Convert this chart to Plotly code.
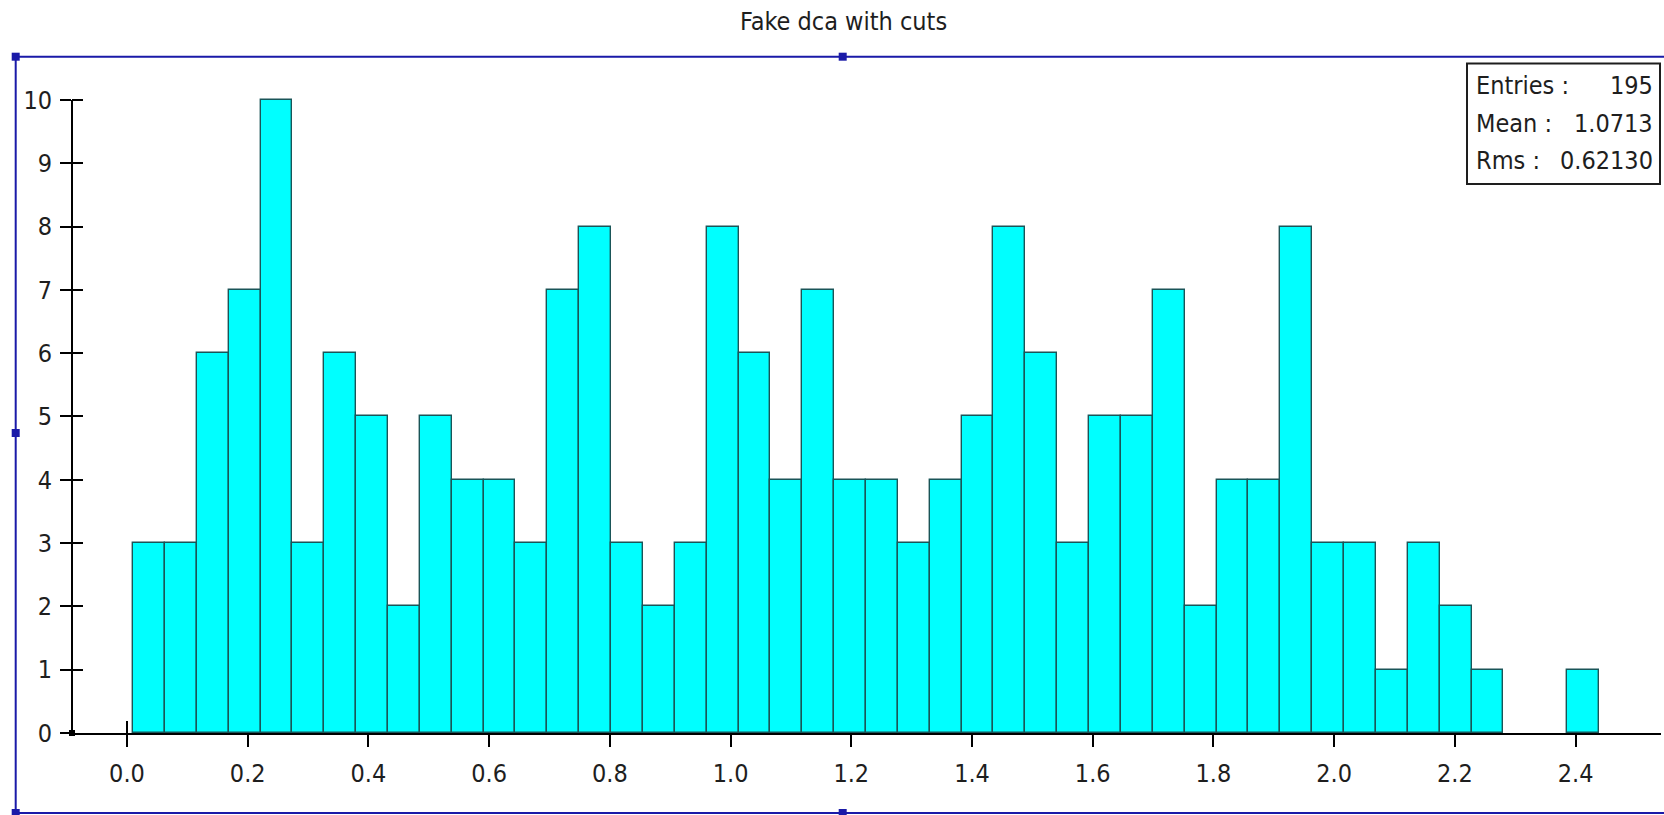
import plotly.graph_objects as go

# Histogram contents: 46 equal-width bins of the fake DCA distribution
bin_low = 0.01
bin_width = 0.0528
counts = [3, 3, 6, 7, 10, 3, 6, 5, 2, 5, 4, 4, 3, 7, 8, 3, 2, 3, 8, 6, 4, 7, 4,
          4, 3, 4, 5, 8, 6, 3, 5, 5, 7, 2, 4, 4, 8, 3, 3, 1, 3, 2, 1, 0, 0, 1]

x_ticks = [0.0, 0.2, 0.4, 0.6, 0.8, 1.0, 1.2, 1.4, 1.6, 1.8, 2.0, 2.2, 2.4]
y_ticks = list(range(0, 11))

title_text = "Fake dca with cuts"
stat_labels = ["Entries :", "Mean :", "Rms :"]
mean_value = "1.0713"
rms_value = "0.62130"

entries = sum(counts)
stat_values = [str(entries), mean_value, rms_value]

centers = [bin_low + bin_width * (i + 0.5) for i in range(len(counts))]
# empty bins get no outline
edge_widths = [1.4 if c > 0 else 0 for c in counts]

FONT = "Liberation Sans Narrow, Arial Narrow, DejaVu Sans Condensed, Liberation Sans, sans-serif"
TEXT = "#1e1e1e"
FRAME_BLUE = "#1a1aa8"

# canvas geometry (pixels)
W, H = 1664, 815
L, R, T, B = 72, 3, 98, 82
pw, ph = W - L - R, H - T - B
y_top = 10.03


def px_x(p):
    return (p - L) / pw


def px_y(p):
    return (H - B - p) / ph


fig = go.Figure()
fig.add_trace(go.Bar(
    x=centers, y=counts, width=bin_width,
    marker=dict(color="#00ffff", line=dict(color="#1a5558", width=edge_widths)),
    cliponaxis=False, hoverinfo="x+y", showlegend=False,
))
# helper trace so the overlay axes are laid out
fig.add_trace(go.Scatter(x=[None], y=[None], xaxis="x2", yaxis="y2",
                         showlegend=False, hoverinfo="skip"))

x_range = [-0.0911, 2.5415]
fig.update_layout(
    width=W, height=H,
    margin=dict(l=L, r=R, t=T, b=B, pad=0),
    paper_bgcolor="white", plot_bgcolor="white",
    bargap=0,
    font=dict(family=FONT, color=TEXT),
    xaxis=dict(
        range=x_range, tickvals=x_ticks, ticktext=[f"{v:.1f}" for v in x_ticks],
        showgrid=False, zeroline=False, showline=True, linecolor="black", linewidth=2,
        ticks="outside", ticklen=12, tickwidth=2, tickcolor="black",
        ticklabelstandoff=5,
        tickfont=dict(size=25, family=FONT, color=TEXT),
    ),
    yaxis=dict(
        range=[0, y_top], tickvals=y_ticks, ticktext=[str(v) for v in y_ticks],
        showgrid=False, zeroline=False, showline=False,
        ticks="outside", ticklen=11, tickwidth=2, tickcolor="black",
        ticklabelstandoff=3,
        tickfont=dict(size=25, family=FONT, color=TEXT),
    ),
    xaxis2=dict(
        range=x_range, overlaying="x", anchor="y", tickvals=[0.0],
        showticklabels=False, showgrid=False, zeroline=False, showline=False,
        ticks="inside", ticklen=12, tickwidth=2, tickcolor="black",
    ),
    yaxis2=dict(
        range=[0, y_top], overlaying="y", anchor="x", side="left", tickvals=y_ticks,
        showticklabels=False, showgrid=False, zeroline=False, showline=False,
        ticks="inside", ticklen=11, tickwidth=2, tickcolor="black",
    ),
)

shapes = []
# vertical axis line spanning the labelled range 0..10
shapes.append(dict(type="line", xref="paper", yref="y", x0=0, x1=0, y0=0, y1=y_ticks[-1],
                   line=dict(color="black", width=2), layer="above"))
# selection frame around the pad
fx0, fx1 = px_x(15.7), px_x(1670)
fy0, fy1 = px_y(813), px_y(56.7)
shapes.append(dict(type="rect", xref="paper", yref="paper", x0=fx0, x1=fx1, y0=fy0, y1=fy1,
                   line=dict(color=FRAME_BLUE, width=2), fillcolor="rgba(0,0,0,0)", layer="above"))
handle = 4
for hx, hy in [(15.7, 56.7), (842.7, 56.7), (15.7, 433), (15.7, 813), (842.7, 813)]:
    shapes.append(dict(type="rect", xref="paper", yref="paper",
                       x0=px_x(hx - handle), x1=px_x(hx + handle),
                       y0=px_y(hy + handle), y1=px_y(hy - handle),
                       line=dict(width=0), fillcolor=FRAME_BLUE, layer="above"))
# origin marker
shapes.append(dict(type="rect", xref="paper", yref="paper",
                   x0=px_x(69), x1=px_x(75), y0=px_y(736), y1=px_y(730),
                   line=dict(width=0), fillcolor="black", layer="above"))
# statistics box
shapes.append(dict(type="rect", xref="paper", yref="paper",
                   x0=px_x(1467), x1=px_x(1660), y0=px_y(184), y1=px_y(63.5),
                   line=dict(color=TEXT, width=2), fillcolor="white", layer="above"))
fig.update_layout(shapes=shapes)

annotations = [dict(
    text=title_text, xref="paper", yref="paper", x=px_x(843), y=px_y(22),
    xanchor="center", yanchor="middle", showarrow=False,
    font=dict(size=25, family=FONT, color=TEXT),
)]
line_centers = [86, 123, 160]
for lab, val, cy in zip(stat_labels, stat_values, line_centers):
    annotations.append(dict(text=lab, xref="paper", yref="paper", x=px_x(1474), y=px_y(cy),
                            xanchor="left", yanchor="middle", showarrow=False,
                            font=dict(size=25, family=FONT, color=TEXT)))
    annotations.append(dict(text=val, xref="paper", yref="paper", x=px_x(1655), y=px_y(cy),
                            xanchor="right", yanchor="middle", showarrow=False,
                            font=dict(size=25, family=FONT, color=TEXT)))
fig.update_layout(annotations=annotations)

fig.write_html("out.html")
